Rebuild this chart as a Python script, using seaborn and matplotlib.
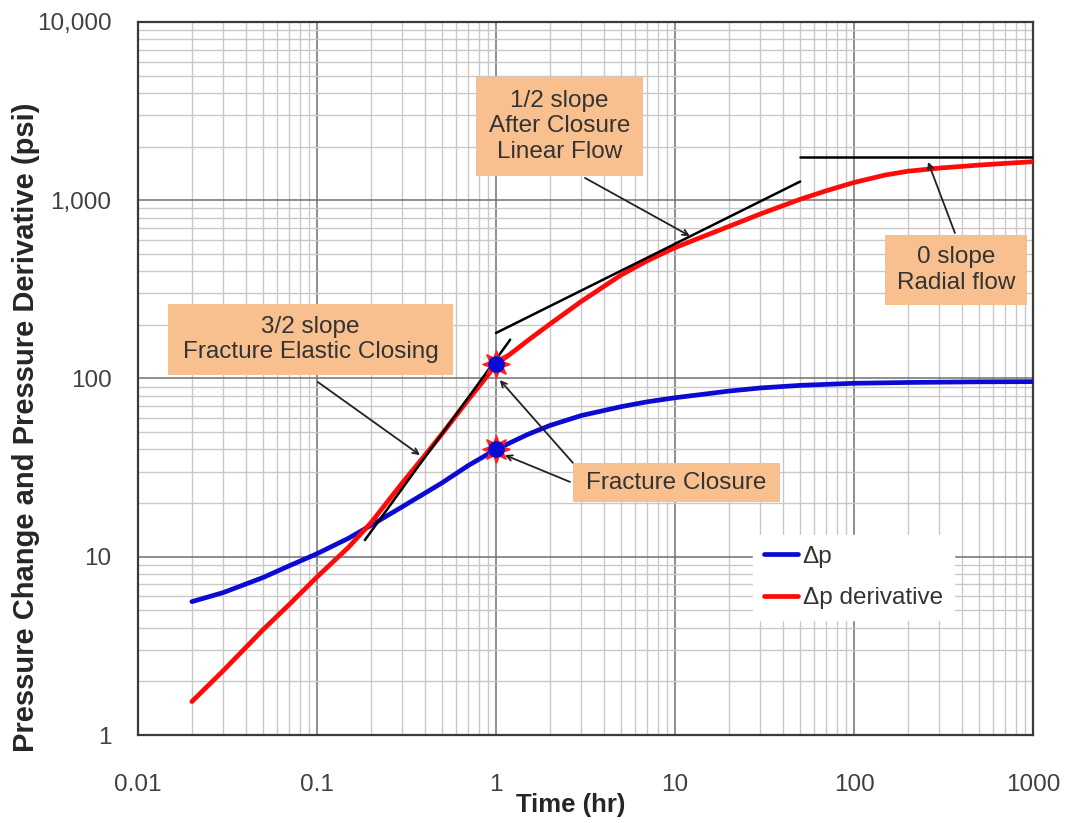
import numpy as np
import pandas as pd
import matplotlib
matplotlib.use("Agg")
import matplotlib.pyplot as plt
import matplotlib.ticker as mticker
from matplotlib.patches import Rectangle
import seaborn as sns

# values
time_dp = [0.02, 0.03, 0.05, 0.07, 0.1, 0.15, 0.2, 0.3, 0.5, 0.7, 1, 1.5, 2, 3, 5, 7,
           10, 20, 30, 50, 100, 200, 500, 1000]
dp = [5.6, 6.3, 7.65, 8.9, 10.4, 12.7, 15.0, 19.1, 26, 32.5, 40, 48.5, 54.5, 62, 69.5, 74,
      78, 85, 88.5, 91.5, 94, 95, 95.8, 96]

time_deriv = [0.02, 0.03, 0.05, 0.07, 0.1, 0.15, 0.2, 0.3, 0.4, 0.5, 0.7, 0.85, 1, 1.2, 1.5,
              2, 3, 5, 7, 10, 15, 20, 30, 50, 70, 100, 150, 200, 300, 500, 700, 1000]
dp_deriv = [1.54, 2.3, 3.9, 5.4, 7.7, 11.3, 15.5, 26, 37, 49, 76, 97, 120, 137, 163,
            202, 271, 381, 458, 542, 637, 713, 838, 1012, 1130, 1258, 1386, 1455, 1515, 1575, 1610, 1645]

# fitted slope lines (start, end)
half_slope_t = [1.0, 50.0]
half_slope_p = [180, 1273]
three_half_t = [0.185, 1.2]
three_half_p = [12.4, 165]
zero_slope_t = [50.0, 1000.0]
zero_slope_p = [1750, 1750]

# fracture closure points
closure_t = [1, 1]
closure_p = [120, 40]

sns.set_style("white")
plt.rcParams['font.family'] = ['Liberation Sans', 'DejaVu Sans']

fig = plt.figure(figsize=(10.68, 8.23), dpi=100)
ax = fig.add_axes([0.1292, 0.1069, 0.8381, 0.8664])
ax.set_xscale('log')
ax.set_yscale('log')

df_dp = pd.DataFrame({'time': time_dp, 'value': dp})
df_der = pd.DataFrame({'time': time_deriv, 'value': dp_deriv})
sns.lineplot(data=df_dp, x='time', y='value', ax=ax, color='#0a0ad2', lw=3.4, label='Δp', zorder=4)
sns.lineplot(data=df_der, x='time', y='value', ax=ax, color='#ff0a0a', lw=3.4,
             label='Δp derivative', zorder=4)

# slope lines
ax.plot(half_slope_t, half_slope_p, color='black', lw=1.8, zorder=5)
ax.plot(three_half_t, three_half_p, color='black', lw=1.8, zorder=5)
ax.plot(zero_slope_t, zero_slope_p, color='black', lw=1.8, zorder=5)

# closure markers
ax.plot(closure_t, closure_p, ls='none', marker=(8, 1, 0), ms=20, color='#ff2020', zorder=6)
ax.plot(closure_t, closure_p, ls='none', marker='o', ms=11, color='#0a0ad2', zorder=7)

ax.set_xlim(0.01, 1000)
ax.set_ylim(1, 10000)

ax.xaxis.set_major_locator(mticker.LogLocator(base=10, numticks=10))
ax.yaxis.set_major_locator(mticker.LogLocator(base=10, numticks=10))
ax.xaxis.set_minor_locator(mticker.LogLocator(base=10, subs=np.arange(2, 10), numticks=20))
ax.yaxis.set_minor_locator(mticker.LogLocator(base=10, subs=np.arange(2, 10), numticks=20))
ax.xaxis.set_major_formatter(mticker.FuncFormatter(lambda v, p: f"{v:g}"))
ax.yaxis.set_major_formatter(mticker.FuncFormatter(lambda v, p: f"{v:,.0f}"))
ax.xaxis.set_minor_formatter(mticker.NullFormatter())
ax.yaxis.set_minor_formatter(mticker.NullFormatter())

ax.grid(which='major', color='#707070', lw=1.1, zorder=1)
ax.grid(which='minor', color='#c8c8c8', lw=1.0, zorder=1)
ax.set_axisbelow(True)

ax.tick_params(axis='both', which='major', direction='out', length=7, width=1,
               color='#b0b0b0', labelsize=17.5, labelcolor='#404040')
ax.tick_params(axis='x', which='major', pad=21)
ax.tick_params(axis='y', which='major', pad=12)
ax.tick_params(which='minor', length=0)
for s in ax.spines.values():
    s.set_color('#3a3a3a')
    s.set_linewidth(1.6)

ax.set_xlabel('Time (hr)', fontsize=18.5, fontweight='bold')
ax.set_ylabel('Pressure Change and Pressure Derivative (psi)', fontsize=21,
              fontweight='bold')
ax.xaxis.set_label_coords(0.483, -0.082)
ax.yaxis.set_label_coords(-0.1095, 0.432)

# annotation boxes (axes fraction: left, bottom, width, height)
box_fc = '#f9c08f'
boxes = [
    ((0.378, 0.784, 0.186, 0.139), '1/2 slope\nAfter Closure\nLinear Flow'),
    ((0.0335, 0.505, 0.3185, 0.0995), '3/2 slope\nFracture Elastic Closing'),
    ((0.486, 0.327, 0.231, 0.054), 'Fracture Closure'),
    ((0.835, 0.603, 0.158, 0.098), '0 slope\nRadial flow'),
]
for (x0, y0, w, h), txt in boxes:
    ax.add_patch(Rectangle((x0, y0), w, h, transform=ax.transAxes, fc=box_fc,
                           ec='none', zorder=8))
    ax.text(x0 + w / 2, y0 + h / 2, txt, transform=ax.transAxes, ha='center',
            va='center', fontsize=17.5, color='#333333', linespacing=1.2, zorder=9)

arrow = dict(arrowstyle='->', color='#222222', lw=1.3, shrinkA=0, shrinkB=0)
ax.annotate('', xy=(12.1, 630), xytext=(3.14, 1334), arrowprops=arrow, zorder=7)
ax.annotate('', xy=(259, 1640), xytext=(366, 655), arrowprops=arrow, zorder=7)
ax.annotate('', xy=(0.376, 37.2), xytext=(0.101, 95.6), arrowprops=arrow, zorder=7)
ax.annotate('', xy=(1.05, 98), xytext=(2.69, 33.6), arrowprops=arrow, zorder=7)
ax.annotate('', xy=(1.12, 37.2), xytext=(2.59, 26.3), arrowprops=arrow, zorder=7)

leg = ax.legend(loc='upper left', bbox_to_anchor=(0.687, 0.2805), frameon=True,
                fontsize=17.5, handlelength=1.4, handletextpad=0.2, labelspacing=0.8,
                borderaxespad=0, borderpad=0.45, fancybox=False)
leg.get_frame().set_facecolor('white')
leg.get_frame().set_edgecolor('white')
leg.get_frame().set_alpha(1)
leg.set_zorder(10)
for t in leg.get_texts():
    t.set_color('#333333')

fig.savefig('out.png', dpi=100)
